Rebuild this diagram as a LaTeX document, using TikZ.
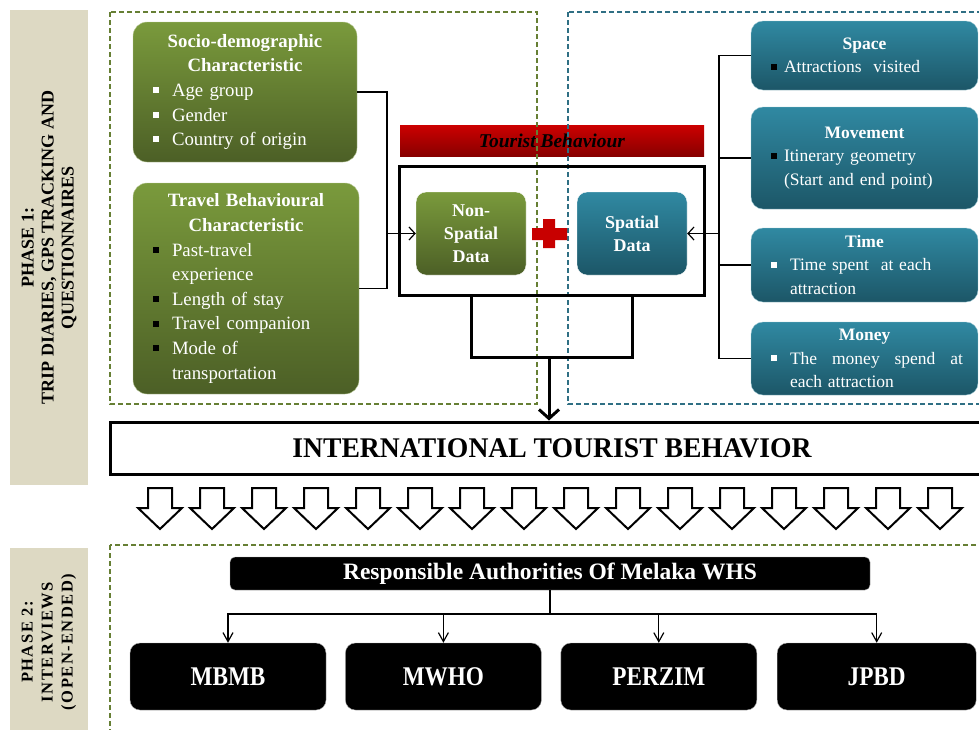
\documentclass[tikz,border=0pt]{standalone}
\usepackage{fontspec}
\setmainfont{Liberation Serif}
\usetikzlibrary{positioning,arrows.meta}
\setlength{\parindent}{0pt}

\definecolor{olivetop}{HTML}{7A9A3C}
\definecolor{olivebot}{HTML}{4C5F26}
\definecolor{tealtop}{HTML}{3089A2}
\definecolor{tealbot}{HTML}{1C5667}
\definecolor{redtop}{HTML}{CC0000}
\definecolor{redbot}{HTML}{880000}
\definecolor{plusred}{HTML}{C80000}
\definecolor{phasebg}{HTML}{DDD9C3}
\definecolor{olivedash}{HTML}{667F34}
\definecolor{tealdash}{HTML}{2F6F84}

\newcommand{\sq}[1]{\textcolor{#1}{\rule[0.18em]{0.32em}{0.32em}}}
\newcommand{\itm}[3][19pt]{\hspace*{8pt}\makebox[#1][l]{\sq{#2}}#3}
\newcommand{\cnt}[2][27pt]{\hspace*{#1}#2}

\tikzset{
  greenbox/.style={rounded corners=14pt, top color=olivetop, bottom color=olivebot,
    draw=olivetop!50!white, text=white, align=left, inner sep=0pt,
    font=\fontsize{18.8}{24.6}\selectfont},
  bluebox/.style={rounded corners=12pt, top color=tealtop, bottom color=tealbot,
    draw=tealtop!50!white, text=white, align=left, inner sep=0pt,
    minimum width=227pt, text width=203pt, font=\fontsize{17.5}{23.5}\selectfont},
  databox/.style={rounded corners=10pt, draw=white, text=white, align=center,
    minimum width=110pt, minimum height=83pt, font=\bfseries\fontsize{18}{23}\selectfont},
  phasebar/.style={fill=phasebg, rotate=90, align=center, inner sep=0pt},
  blackbox/.style={rounded corners=10pt, fill=black, draw=gray!70, text=white,
    minimum width=196pt, minimum height=67pt, font=\bfseries\fontsize{27}{30}\selectfont},
  dashbox/.style={line width=1.5pt, dash pattern=on 5pt off 3pt},
  wire/.style={line width=1.2pt},
  hollowarrow/.style={draw=black, fill=white, line width=2pt, line join=miter},
}

\begin{document}
\begin{tikzpicture}[x=1pt,y=-1pt]
\useasboundingbox (0,0) rectangle (979,729);

% phase labels
\node[phasebar, minimum width=475pt, minimum height=78pt, font=\bfseries\fontsize{18}{20}\selectfont]
  (ph1) at (49,247.5) {PHASE 1:\\TRIP DIARIES, GPS TRACKING AND\\QUESTIONNAIRES};
\node[phasebar, minimum width=188pt, minimum height=78pt, font=\bfseries\fontsize{16.5}{20}\selectfont\addfontfeature{LetterSpace=9}]
  (ph2) at (49,642) {PHASE 2:\\INTERVIEWS\\(OPEN-ENDED)};

% phase 1 inputs
\node[greenbox, minimum width=224pt, minimum height=140pt, text width=200pt] (socio) at (245,92)
  {{\centering\bfseries Socio-demographic\\Characteristic\par}
   \itm{white}{Age group}\\\itm{white}{Gender}\\\itm{white}{Country of origin}};
\node[greenbox, minimum width=226pt, minimum height=211pt, text width=202pt] (travel) at (246,288.5)
  {{\centering\bfseries Travel Behavioural\\Characteristic\par}
   \itm{black}{Past-travel}\\\cnt{experience}\\\itm{black}{Length of stay}\\
   \itm{black}{Travel companion}\\\itm{black}{Mode of}\\\cnt{transportation}};

\node[bluebox, minimum height=69pt] (space) at (864.5,55.5)
  {{\centering\bfseries Space\par}\itm[13pt]{black}{Attractions\ \ visited}};
\node[bluebox, minimum height=102pt] (movement) at (864.5,158)
  {{\centering\bfseries Movement\par}\itm[13pt]{black}{Itinerary geometry}\\\cnt[21pt]{(Start and end point)}};
\node[bluebox, minimum height=74pt] (time) at (864.5,265)
  {{\centering\bfseries Time\par}\itm{white}{Time spent\ \ at each}\\\cnt{attraction}};
\node[bluebox, minimum height=73pt] (money) at (864.5,358.5)
  {{\centering\bfseries Money\par}\itm{white}{\makebox[173pt][l]{The\hfill money\hfill spend\hfill at}}\\\cnt{each attraction}};

% tourist behaviour
\node[top color=redtop, bottom color=redbot, minimum width=304pt, minimum height=31pt, inner sep=0pt,
  font=\bfseries\itshape\fontsize{19.5}{20}\selectfont] (tbbar) at (552,140.5) {\raisebox{-3pt}{Tourist Behaviour}};

\draw[olivedash, dashbox] (110,12) rectangle (537,404);
\draw[tealdash, dashbox] (568,12) rectangle (995,404);
\draw[olivedash, dashbox] (110,545) rectangle (995,745);

\node[draw, line width=3pt, minimum width=305pt, minimum height=129pt] (tbbox) at (551.5,230.5) {};
\node[databox, top color=olivetop, bottom color=olivebot] (nsd) at (471,233.5) {Non-\\Spatial\\Data};
\node[databox, top color=tealtop, bottom color=tealbot] (sd) at (632,233.5) {Spatial\\Data};
\fill[plusred] (532,228) rectangle (567,240) (543,219) rectangle (555,248);

\coordinate (jl) at (387,233.5);
\draw[wire] (socio.east) -| (jl) |- (travel.east);
\draw[wire, -{Straight Barb[length=6pt,width=13pt]}] (jl) -- (nsd.west);

\coordinate (jr) at (719,233.5);
\draw[wire] (space.west) -| (jr) |- (money.west);
\draw[wire] (movement.west) -- (movement.west -| jr);
\draw[wire] (time.west) -- (time.west -| jr);
\draw[wire, -{Straight Barb[length=6pt,width=13pt]}] (jr) -- (sd.east);

\node[draw, line width=3pt, fill=white, minimum width=884pt, minimum height=52pt,
  font=\bfseries\fontsize{28.5}{30}\selectfont] (itb) at (552,448)
  {\scalebox{0.97}[1]{INTERNATIONAL TOURIST BEHAVIOR}};

\coordinate (mid) at (549,357);
\draw[line width=3pt] (nsd.south |- tbbox.south) |- (mid) -| (sd.south |- tbbox.south);
\draw[line width=3pt, -{Straight Barb[length=9pt,width=20pt]}] (mid) -- (mid |- itb.north);

\foreach \k in {0,...,15}{
  \pgfmathsetmacro{\ax}{160+52*\k}
  \draw[hollowarrow] (\ax-12,488) -- (\ax+12,488) -- (\ax+12,508) -- (\ax+22,508)
    -- (\ax,529) -- (\ax-22,508) -- (\ax-12,508) -- cycle;
}

% phase 2
\node[rounded corners=5pt, fill=black, draw=gray!70, text=white, minimum width=640pt, minimum height=33pt,
  font=\bfseries\fontsize{23.5}{25}\selectfont] (resp) at (550,573.5) {Responsible Authorities Of Melaka WHS};

\node[blackbox] (mbmb) at (228,676.5) {\scalebox{0.86}[1]{MBMB}};
\node[blackbox, right=19pt of mbmb] (mwho) {\scalebox{0.86}[1]{MWHO}};
\node[blackbox, right=19pt of mwho] (perzim) {\scalebox{0.86}[1]{PERZIM}};
\node[blackbox, right=20pt of perzim, minimum width=199pt] (jpbd) {\scalebox{0.86}[1]{JPBD}};

\coordinate (rb) at (549,614);
\draw[wire] (resp.south) -- (resp.south |- rb);
\foreach \n in {mbmb,mwho,perzim,jpbd}
  \draw[wire, -{Straight Barb[length=9pt,width=10pt]}] (rb) -| (\n.north);
\end{tikzpicture}
\end{document}
